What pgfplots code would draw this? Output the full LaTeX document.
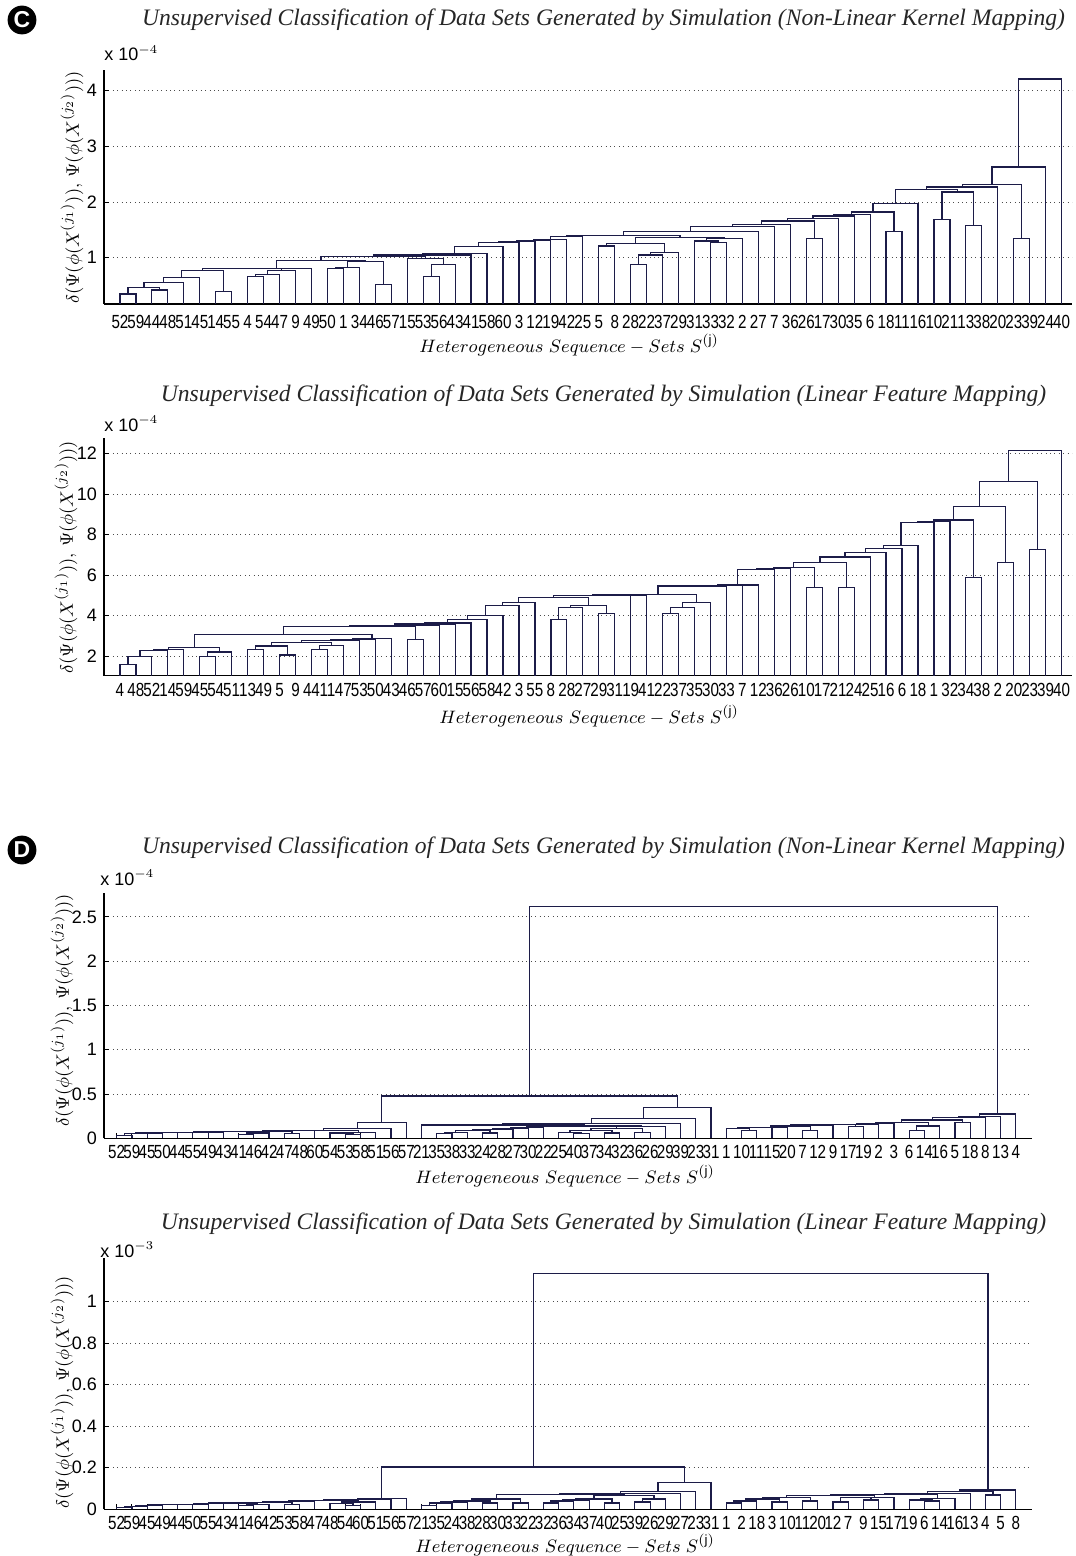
\documentclass[border=0pt]{standalone}
\usepackage{fontspec}
\setmainfont{Liberation Sans}
\newfontfamily\tms{Liberation Serif}
\usepackage{pgfplots}
\pgfplotsset{compat=1.18}
\definecolor{dcol}{RGB}{28,28,72}
\newcommand{\M}[5]{\addplot[dline] coordinates {(#1,#2) (#1,#5) (#3,#5) (#3,#4)};}
\pgfplotsset{
 dline/.style={draw=dcol, line width=0.6pt, no marks},
 dendro/.style={
  scale only axis, anchor=south west,
  axis x line*=bottom, axis y line*=left,
  axis line style={line width=0.6pt, black, -},
  tick align=inside, major tick length=2.5pt,
  tick style={black, line width=0.5pt},
  xtick={1,...,60},
  ymajorgrids, major grid style={black!70, line width=0.5pt, dash pattern=on 0.5pt off 1.7pt},
  /pgf/number format/assume math mode=true,
  xticklabel style={font=\fontsize{9.5}{9.5}\selectfont, xscale=0.8, inner sep=1pt, yshift=-2.5pt},
  yticklabel style={font=\fontsize{9}{9}\selectfont},
 }
}
\newcommand{\ttl}[1]{{\tms\itshape\fontsize{11.8}{11.8}\selectfont\color{black!85} #1}}
\newcommand{\ylab}{$\delta(\Psi(\phi(X^{(j_1)})),\,\Psi(\phi(X^{(j_2)})))$}
\newcommand{\xlab}{$Heterogeneous\ Sequence - Sets\ S^{(\mathrm{j})}$}
\begin{document}
\begin{tikzpicture}[x=1pt,y=1pt]
\path[use as bounding box] (0pt,0pt) rectangle (537.5pt,-778pt);
% panel labels
\fill[black] (11pt,-10pt) circle[radius=7.2pt];
\node[white, font=\bfseries\fontsize{11.5}{11.5}\selectfont] at (11pt,-10pt) {C};
\fill[black] (11pt,-425pt) circle[radius=7.2pt];
\node[white, font=\bfseries\fontsize{11.5}{11.5}\selectfont] at (11pt,-425pt) {D};
% titles
\node at (301.75pt,-10pt) {\ttl{Unsupervised Classification of Data Sets Generated by Simulation (Non-Linear Kernel Mapping)}};
\node at (301.75pt,-198pt) {\ttl{Unsupervised Classification of Data Sets Generated by Simulation (Linear Feature Mapping)}};
\node at (301.75pt,-424pt) {\ttl{Unsupervised Classification of Data Sets Generated by Simulation (Non-Linear Kernel Mapping)}};
\node at (301.75pt,-612pt) {\ttl{Unsupervised Classification of Data Sets Generated by Simulation (Linear Feature Mapping)}};
% exponent labels
\node[anchor=base west, font=\fontsize{9}{9}\selectfont, inner sep=0pt] at (52pt,-30.5pt) {x 10$^{-4}$};
\node[anchor=base west, font=\fontsize{9}{9}\selectfont, inner sep=0pt] at (52pt,-215.5pt) {x 10$^{-4}$};
\node[anchor=base west, font=\fontsize{9}{9}\selectfont, inner sep=0pt] at (50pt,-442.5pt) {x 10$^{-4}$};
\node[anchor=base west, font=\fontsize{9}{9}\selectfont, inner sep=0pt] at (50pt,-628.5pt) {x 10$^{-3}$};
% y labels
\node[rotate=90, font=\fontsize{9.5}{9.5}\selectfont] at (36pt,-93.75pt) {\ylab};
\node[rotate=90, font=\fontsize{9.5}{9.5}\selectfont] at (33pt,-278.5pt) {\ylab};
\node[rotate=90, font=\fontsize{9.5}{9.5}\selectfont] at (31pt,-505pt) {\ylab};
\node[rotate=90, font=\fontsize{9.5}{9.5}\selectfont] at (31pt,-696pt) {\ylab};
% x labels
\node[font=\fontsize{9.5}{9.5}\selectfont] at (284.5pt,-172.5pt) {\xlab};
\node[font=\fontsize{9.5}{9.5}\selectfont] at (294.5pt,-358pt) {\xlab};
\node[font=\fontsize{9.5}{9.5}\selectfont] at (282.5pt,-588pt) {\xlab};
\node[font=\fontsize{9.5}{9.5}\selectfont] at (282.5pt,-772.5pt) {\xlab};

% ================= Panel 1 =================
\begin{axis}[dendro, at={(52pt,-152pt)}, width=484pt, height=117pt,
  xmin=0, xmax=60.65, ymin=0.17, ymax=4.37, ytick={1,2,3,4},
  xticklabel style={yshift=-2pt},
  xticklabels={52,59,44,48,51,45,14,55,4,54,47,9,49,50,1,34,46,57,15,53,56,43,41,58,60,3,12,19,42,25,5,8,28,22,37,29,31,33,32,2,27,7,36,26,17,30,35,6,18,11,16,10,21,13,38,20,23,39,24,40}]
\M{1}{0}{2}{0}{0.35}
\M{3}{0}{4}{0}{0.42}
\M{1.5}{0.35}{3.5}{0.42}{0.47}
\M{2.5}{0.47}{5}{0}{0.55}
\M{3.75}{0.55}{6}{0}{0.65}
\M{7}{0}{8}{0}{0.39}
\M{4.875}{0.65}{7.5}{0.39}{0.77}
\M{9}{0}{10}{0}{0.66}
\M{9.5}{0.66}{11}{0}{0.70}
\M{10.25}{0.70}{12}{0}{0.77}
\M{6.1875}{0.77}{11.125}{0.77}{0.80}
\M{8.656}{0.80}{13}{0}{0.81}
\M{14}{0}{15}{0}{0.80}
\M{14.5}{0.80}{16}{0}{0.82}
\M{17}{0}{18}{0}{0.52}
\M{15.25}{0.82}{17.5}{0.52}{0.93}
\M{10.828}{0.81}{16.375}{0.93}{0.95}
\M{20}{0}{21}{0}{0.67}
\M{20.5}{0.67}{22}{0}{0.88}
\M{19}{0}{21.25}{0.88}{0.99}
\M{13.602}{0.95}{20.125}{0.99}{1.02}
\M{16.863}{1.02}{23}{0}{1.05}
\M{19.932}{1.05}{24}{0}{1.08}
\M{21.966}{1.08}{25}{0}{1.20}
\M{23.483}{1.20}{26}{0}{1.27}
\M{24.741}{1.27}{27}{0}{1.29}
\M{25.871}{1.29}{28}{0}{1.31}
\M{26.935}{1.31}{29}{0}{1.33}
\M{27.968}{1.33}{30}{0}{1.38}
\M{31}{0}{32}{0}{1.21}
\M{33}{0}{34}{0}{0.88}
\M{33.5}{0.88}{35}{0}{1.05}
\M{34.25}{1.05}{36}{0}{1.09}
\M{31.5}{1.21}{35.125}{1.09}{1.26}
\M{38}{0}{39}{0}{1.28}
\M{37}{0}{38.5}{1.28}{1.30}
\M{37.75}{1.30}{40}{0}{1.35}
\M{33.3125}{1.26}{38.875}{1.35}{1.37}
\M{28.984}{1.38}{36.094}{1.37}{1.40}
\M{32.539}{1.40}{41}{0}{1.47}
\M{36.77}{1.47}{42}{0}{1.56}
\M{39.385}{1.56}{43}{0}{1.60}
\M{44}{0}{45}{0}{1.35}
\M{41.19}{1.60}{44.5}{1.35}{1.66}
\M{42.846}{1.66}{46}{0}{1.71}
\M{44.423}{1.71}{47}{0}{1.75}
\M{45.711}{1.75}{48}{0}{1.78}
\M{49}{0}{50}{0}{1.47}
\M{46.856}{1.78}{49.5}{1.47}{1.82}
\M{48.178}{1.82}{51}{0}{1.98}
\M{52}{0}{53}{0}{1.69}
\M{54}{0}{55}{0}{1.58}
\M{52.5}{1.69}{54.5}{1.58}{2.18}
\M{49.589}{1.98}{53.5}{2.18}{2.22}
\M{51.545}{2.22}{56}{0}{2.27}
\M{57}{0}{58}{0}{1.35}
\M{53.772}{2.27}{57.5}{1.35}{2.32}
\M{55.636}{2.32}{59}{0}{2.63}
\M{57.318}{2.63}{60}{0}{4.21}
\end{axis}

% ================= Panel 2 =================
\begin{axis}[dendro, at={(52pt,-337.85pt)}, width=484pt, height=118.85pt,
  xmin=0, xmax=60.65, ymin=1.03, ymax=12.77, ytick={2,4,6,8,10,12},
  xticklabels={4,48,52,14,59,45,54,51,13,49,5,9,44,11,47,53,50,43,46,57,60,15,56,58,42,3,55,8,28,27,29,31,19,41,22,37,35,30,33,7,12,36,26,10,17,21,24,25,16,6,18,1,32,34,38,2,20,23,39,40}]
\M{1}{0}{2}{0}{1.59}
\M{1.5}{1.59}{3}{0}{1.98}
\M{2.25}{1.98}{4}{0}{2.28}
\M{3.125}{2.28}{5}{0}{2.32}
\M{6}{0}{7}{0}{1.98}
\M{6.5}{1.98}{8}{0}{2.20}
\M{4.0625}{2.32}{7.25}{2.20}{2.41}
\M{9}{0}{10}{0}{2.31}
\M{11}{0}{12}{0}{2.05}
\M{9.5}{2.31}{11.5}{2.05}{2.50}
\M{13}{0}{14}{0}{2.33}
\M{13.5}{2.33}{15}{0}{2.53}
\M{10.5}{2.50}{14.25}{2.53}{2.68}
\M{12.375}{2.68}{16}{0}{2.78}
\M{14.1875}{2.78}{17}{0}{2.82}
\M{15.594}{2.82}{18}{0}{2.85}
\M{5.656}{2.41}{16.797}{2.85}{3.06}
\M{19}{0}{20}{0}{2.82}
\M{11.227}{3.06}{19.5}{2.82}{3.45}
\M{15.363}{3.45}{21}{0}{3.50}
\M{18.182}{3.50}{22}{0}{3.58}
\M{20.091}{3.58}{23}{0}{3.63}
\M{21.545}{3.63}{24}{0}{3.80}
\M{22.773}{3.80}{25}{0}{4.01}
\M{23.886}{4.01}{26}{0}{4.50}
\M{24.943}{4.50}{27}{0}{4.66}
\M{28}{0}{29}{0}{3.81}
\M{28.5}{3.81}{30}{0}{4.38}
\M{31}{0}{32}{0}{4.09}
\M{29.25}{4.38}{31.5}{4.09}{4.49}
\M{25.972}{4.66}{30.375}{4.49}{4.90}
\M{28.173}{4.90}{33}{0}{4.98}
\M{30.587}{4.98}{34}{0}{5.02}
\M{35}{0}{36}{0}{4.12}
\M{35.5}{4.12}{37}{0}{4.40}
\M{36.25}{4.40}{38}{0}{4.66}
\M{32.293}{5.02}{37.125}{4.66}{5.06}
\M{34.709}{5.06}{39}{0}{5.46}
\M{36.855}{5.46}{40}{0}{5.48}
\M{38.427}{5.48}{41}{0}{5.51}
\M{39.714}{5.51}{42}{0}{6.28}
\M{40.857}{6.28}{43}{0}{6.33}
\M{44}{0}{45}{0}{5.37}
\M{41.928}{6.33}{44.5}{5.37}{6.38}
\M{46}{0}{47}{0}{5.37}
\M{43.214}{6.38}{46.5}{5.37}{6.63}
\M{44.857}{6.63}{48}{0}{6.89}
\M{46.429}{6.89}{49}{0}{7.10}
\M{47.714}{7.10}{50}{0}{7.30}
\M{48.857}{7.30}{51}{0}{7.47}
\M{49.929}{7.47}{52}{0}{8.58}
\M{50.964}{8.58}{53}{0}{8.65}
\M{54}{0}{55}{0}{5.90}
\M{51.982}{8.65}{54.5}{5.90}{8.72}
\M{56}{0}{57}{0}{6.63}
\M{53.241}{8.72}{56.5}{6.63}{9.37}
\M{58}{0}{59}{0}{7.25}
\M{54.871}{9.37}{58.5}{7.25}{10.63}
\M{56.685}{10.63}{60}{0}{12.14}
\end{axis}

% ================= Panel 3 =================
\begin{axis}[dendro, at={(52pt,-569.15pt)}, width=464pt, height=122.65pt,
  xmin=0.167, xmax=61.06, ymin=0, ymax=2.77, ytick={0,0.5,1,1.5,2,2.5},
  yticklabels={0,0.5,1,1.5,2,2.5},
  xticklabels={52,59,45,50,44,55,49,43,41,46,42,47,48,60,54,53,58,51,56,57,21,35,38,33,24,28,27,30,22,25,40,37,34,32,36,26,29,39,23,31,1,10,11,15,20,7,12,9,17,19,2,3,6,14,16,5,18,8,13,4}]
\M{1}{0}{2}{0}{0.03}
\M{1.5}{0.03}{3}{0}{0.05}
\M{2.25}{0.05}{4}{0}{0.06}
\M{3.125}{0.06}{5}{0}{0.065}
\M{4.0625}{0.065}{6}{0}{0.068}
\M{5.031}{0.068}{7}{0}{0.07}
\M{6.016}{0.07}{8}{0}{0.072}
\M{9}{0}{10}{0}{0.04}
\M{9.5}{0.04}{11}{0}{0.06}
\M{7.008}{0.072}{10.25}{0.06}{0.075}
\M{12}{0}{13}{0}{0.055}
\M{8.629}{0.075}{12.5}{0.055}{0.08}
\M{10.565}{0.08}{14}{0}{0.085}
\M{16}{0}{17}{0}{0.04}
\M{15}{0}{16.5}{0.04}{0.06}
\M{15.75}{0.06}{18}{0}{0.07}
\M{12.282}{0.085}{16.875}{0.07}{0.09}
\M{14.579}{0.09}{19}{0}{0.11}
\M{16.789}{0.11}{20}{0}{0.176}
\M{22}{0}{23}{0}{0.05}
\M{22.5}{0.05}{24}{0}{0.07}
\M{25}{0}{26}{0}{0.06}
\M{23.25}{0.07}{25.5}{0.06}{0.09}
\M{24.375}{0.09}{27}{0}{0.10}
\M{25.6875}{0.10}{28}{0}{0.11}
\M{26.844}{0.11}{29}{0}{0.12}
\M{31}{0}{32}{0}{0.05}
\M{30}{0}{31.5}{0.05}{0.07}
\M{33}{0}{34}{0}{0.06}
\M{30.75}{0.07}{33.5}{0.06}{0.09}
\M{35}{0}{36}{0}{0.07}
\M{32.125}{0.09}{35.5}{0.07}{0.11}
\M{33.8125}{0.11}{37}{0}{0.13}
\M{27.922}{0.12}{35.406}{0.13}{0.14}
\M{21}{0}{31.664}{0.14}{0.15}
\M{26.332}{0.15}{38}{0}{0.17}
\M{32.166}{0.17}{39}{0}{0.22}
\M{35.583}{0.22}{40}{0}{0.35}
\M{18.395}{0.176}{37.79}{0.35}{0.477}
\M{42}{0}{43}{0}{0.086}
\M{41}{0}{42.5}{0.086}{0.11}
\M{41.75}{0.11}{44}{0}{0.12}
\M{42.875}{0.12}{45}{0}{0.125}
\M{46}{0}{47}{0}{0.09}
\M{43.9375}{0.125}{46.5}{0.09}{0.14}
\M{45.219}{0.14}{48}{0}{0.15}
\M{49}{0}{50}{0}{0.13}
\M{46.609}{0.15}{49.5}{0.13}{0.155}
\M{48.055}{0.155}{51}{0}{0.16}
\M{49.527}{0.16}{52}{0}{0.165}
\M{53}{0}{54}{0}{0.086}
\M{53.5}{0.086}{55}{0}{0.14}
\M{50.764}{0.165}{54.25}{0.14}{0.18}
\M{56}{0}{57}{0}{0.176}
\M{52.507}{0.18}{56.5}{0.176}{0.206}
\M{54.504}{0.206}{58}{0}{0.236}
\M{56.252}{0.236}{59}{0}{0.244}
\M{57.626}{0.244}{60}{0}{0.274}
\M{28.09}{0.477}{58.813}{0.274}{2.62}
\end{axis}

% ================= Panel 4 =================
\begin{axis}[dendro, at={(52pt,-754.65pt)}, width=464pt, height=125.65pt,
  xmin=0.167, xmax=61.06, ymin=0, ymax=1.21, ytick={0,0.2,0.4,0.6,0.8,1},
  yticklabels={0,0.2,0.4,0.6,0.8,1},
  xticklabels={52,59,45,49,44,50,55,43,41,46,42,53,58,47,48,54,60,51,56,57,21,35,24,38,28,30,33,22,32,36,34,37,40,25,39,26,29,27,23,31,1,2,18,3,10,11,20,12,7,9,15,17,19,6,14,16,13,4,5,8}]
\M{1}{0}{2}{0}{0.010}
\M{1.5}{0.010}{3}{0}{0.015}
\M{2.25}{0.015}{4}{0}{0.020}
\M{3.125}{0.020}{5}{0}{0.022}
\M{4.0625}{0.022}{6}{0}{0.024}
\M{5.031}{0.024}{7}{0}{0.025}
\M{6.016}{0.025}{8}{0}{0.027}
\M{9}{0}{10}{0}{0.020}
\M{9.5}{0.020}{11}{0}{0.025}
\M{7.008}{0.027}{10.25}{0.025}{0.030}
\M{12}{0}{13}{0}{0.025}
\M{8.629}{0.030}{12.5}{0.025}{0.032}
\M{10.565}{0.032}{14}{0}{0.036}
\M{16}{0}{17}{0}{0.020}
\M{15}{0}{16.5}{0.020}{0.028}
\M{15.75}{0.028}{18}{0}{0.035}
\M{12.282}{0.036}{16.875}{0.035}{0.042}
\M{14.579}{0.042}{19}{0}{0.048}
\M{16.789}{0.048}{20}{0}{0.051}
\M{21}{0}{22}{0}{0.020}
\M{21.5}{0.020}{23}{0}{0.030}
\M{22.25}{0.030}{24}{0}{0.035}
\M{25}{0}{26}{0}{0.030}
\M{23.125}{0.035}{25.5}{0.030}{0.040}
\M{27}{0}{28}{0}{0.030}
\M{24.3125}{0.040}{27.5}{0.030}{0.050}
\M{29}{0}{30}{0}{0.030}
\M{29.5}{0.030}{31}{0}{0.040}
\M{30.25}{0.040}{32}{0}{0.045}
\M{33}{0}{34}{0}{0.030}
\M{31.125}{0.045}{33.5}{0.030}{0.050}
\M{35}{0}{36}{0}{0.035}
\M{35.5}{0.035}{37}{0}{0.050}
\M{32.3125}{0.050}{36.25}{0.050}{0.065}
\M{25.906}{0.050}{34.281}{0.065}{0.072}
\M{30.094}{0.072}{38}{0}{0.077}
\M{34.047}{0.077}{39}{0}{0.085}
\M{36.523}{0.085}{40}{0}{0.128}
\M{18.395}{0.051}{38.262}{0.128}{0.204}
\M{41}{0}{42}{0}{0.030}
\M{41.5}{0.030}{43}{0}{0.040}
\M{44}{0}{45}{0}{0.035}
\M{42.25}{0.040}{44.5}{0.035}{0.050}
\M{46}{0}{47}{0}{0.040}
\M{43.375}{0.050}{46.5}{0.040}{0.058}
\M{48}{0}{49}{0}{0.035}
\M{50}{0}{51}{0}{0.045}
\M{48.5}{0.035}{50.5}{0.045}{0.055}
\M{49.5}{0.055}{52}{0}{0.058}
\M{44.9375}{0.058}{50.75}{0.058}{0.065}
\M{54}{0}{55}{0}{0.040}
\M{53}{0}{54.5}{0.040}{0.045}
\M{53.75}{0.045}{56}{0}{0.053}
\M{47.844}{0.065}{54.875}{0.053}{0.070}
\M{51.359}{0.070}{57}{0}{0.077}
\M{58}{0}{59}{0}{0.069}
\M{54.18}{0.077}{58.5}{0.069}{0.086}
\M{56.34}{0.086}{60}{0}{0.093}
\M{28.33}{0.204}{58.17}{0.093}{1.134}
\end{axis}
\end{tikzpicture}
\end{document}
